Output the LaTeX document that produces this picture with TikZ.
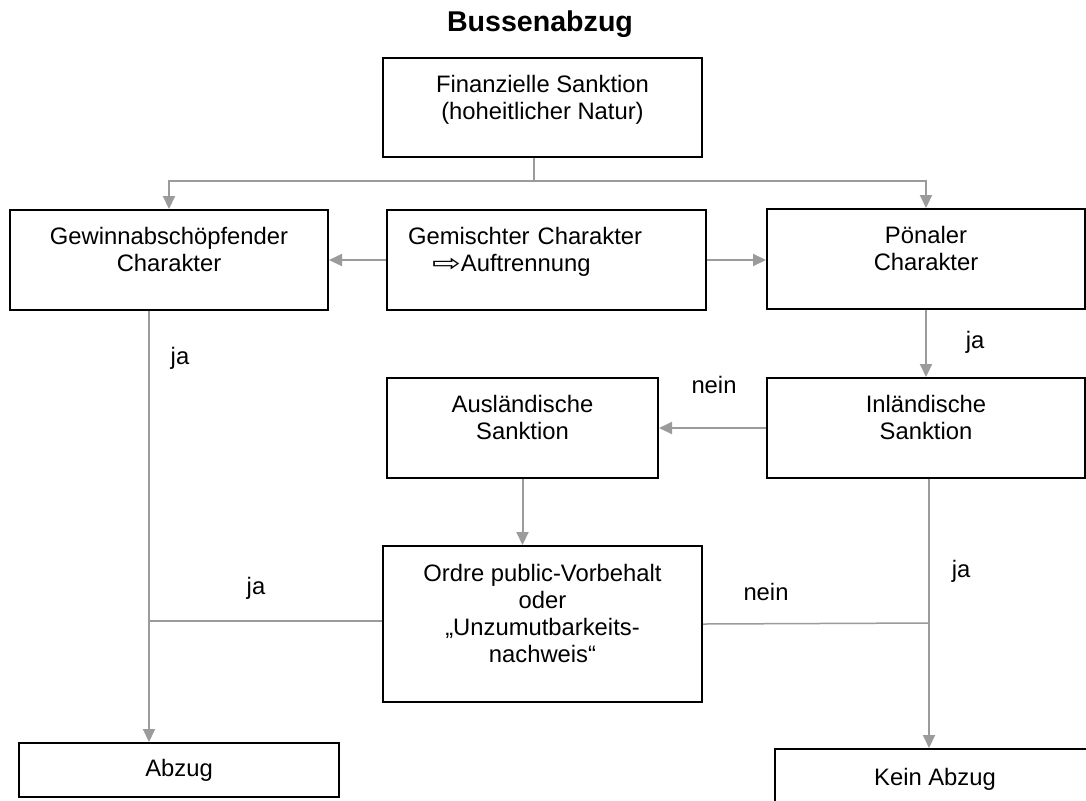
\documentclass[tikz,border=0pt]{standalone}
\usepackage{fontspec}
\setmainfont{Liberation Sans}
\newfontfamily\symfont{DejaVu Sans}
\usetikzlibrary{arrows.meta}
\usetikzlibrary{positioning}

\definecolor{linegray}{RGB}{155,155,155}

\tikzset {
  % plain connector, no tip
  conn/.style = {
    draw = linegray,
    line width = 0.75pt
  },
  % connector with a tip at its end
  arr/.style = {
    draw = linegray,
    line width = 1pt,
    -{Triangle[length=6.5pt, width=6pt]}
  }
}
\tikzset {
  box/.style = {
    draw = black,
    line width = 1pt,
    rectangle,
    inner sep = 0,
    align = center,
    font = \fontsize{11.9}{13.5}\selectfont
  },
  % yes/no labels beside the connectors
  answer/.style = {
    inner sep = 0,
    font = \fontsize{11.9}{13.5}\selectfont
  }
}
% empty last line, pushes the text a bit upwards in its box
\newcommand\boxlift{\\[-3pt]\mbox{}}

\begin{document}
\begin{tikzpicture}[x=0.5pt, y=-0.5pt]
    \useasboundingbox (0,0) rectangle (1086,800);

    \node[anchor=base, font=\bfseries\fontsize{14.3}{16}\selectfont] (title) at (540,31) {Bussenabzug};

    \node[box, minimum width=159.5pt, minimum height=49.5pt] (fin) at (542.5,107.5) {Finanzielle Sanktion\\(hoheitlicher Natur)\boxlift};
    \node[box, minimum width=159pt, minimum height=50pt] (gew) at (169,260) {Gewinnabschöpfender\\Charakter\boxlift};
    \node[box, minimum width=159.5pt, minimum height=50pt, text width=138.5pt, inner xsep=10.5pt, align=left] (gem) at (546.5,260) {Gemischter Charakter\\\hspace*{12pt}\scalebox{1.45}[1]{\symfont ⇨}Auftrennung\boxlift};
    \node[box, minimum width=159pt, minimum height=50pt] (poe) at (926,259) {Pönaler\\Charakter\boxlift};
    \node[box, minimum width=135.5pt, minimum height=50pt] (aus) at (522.5,428) {Ausländische\\Sanktion\boxlift};
    \node[box, minimum width=159pt, minimum height=50pt] (inl) at (926,428) {Inländische\\Sanktion\boxlift};
    \node[box, minimum width=159.5pt, minimum height=78pt] (ord) at (542.5,624) {Ordre public-Vorbehalt\\oder\\„Unzumutbarkeits-\\nachweis“\boxlift};
    \node[box, minimum width=160pt, minimum height=27pt] (abz) at (179,770) {Abzug};
    \node[box, minimum width=160pt, minimum height=30pt] (kein) at (935,779) {Kein Abzug};

    \coordinate (split) at (534,181);
    \coordinate (jaL) at (149,621);
    \coordinate (jaR) at (929,623);

    \draw[conn] (fin.south -| split) -- (split);
    \draw[arr] (split) -| (gew.north);
    \draw[arr] (split) -| (poe.north);
    \draw[arr] (gem.west) -- (gew.east);
    \draw[arr] (gem.east) -- (gem.east -| poe.west);
    \draw[arr] (poe.south) -- (inl.north);
    \draw[arr] (inl.west) -- (aus.east);
    \draw[arr] (aus.south) -- (aus.south |- ord.north);
    \draw[arr] (gew.south -| jaL) -- (abz.north -| jaL);
    \draw[conn] (ord.west |- jaL) -- (jaL);
    \draw[conn] (ord.east) -- (jaR);
    \draw[arr] (inl.south -| jaR) -- (kein.north -| jaR);

    \node[answer] (ja1) at (180,358) {ja};
    \node[answer] (ja2) at (975,342) {ja};
    \node[answer] (nein1) at (714,385) {nein};
    \node[answer] (ja3) at (256,588) {ja};
    \node[answer] (nein2) at (766,592) {nein};
    \node[answer] (ja4) at (961,571) {ja};
  \end{tikzpicture}
\end{document}
